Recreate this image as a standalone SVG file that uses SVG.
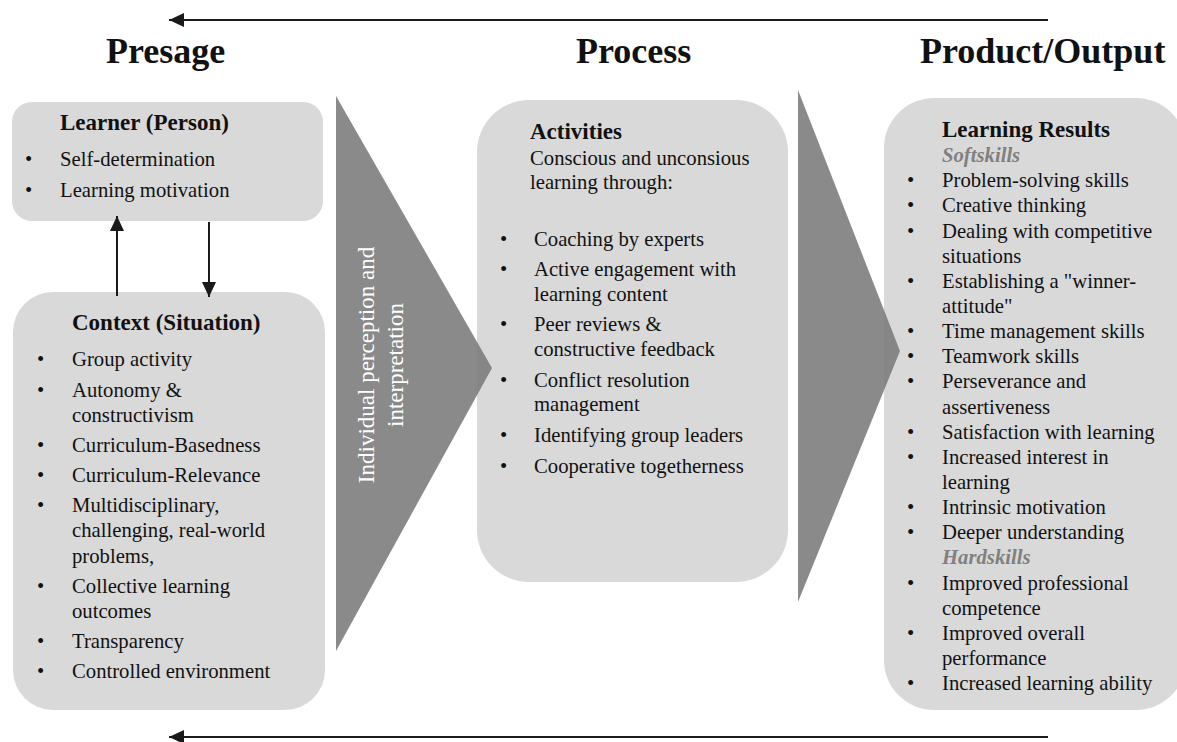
<svg xmlns="http://www.w3.org/2000/svg" width="1177" height="742" viewBox="0 0 1177 742">
<defs>
<style>
.box{fill:#d9d9d9;}
.tri{fill:#7a7a7a;fill-opacity:0.88;}
.hd{font-family:"Liberation Serif","Times New Roman",serif;font-weight:bold;font-size:36px;fill:#111;}
.t{font-family:"Liberation Serif","Times New Roman",serif;font-size:20.7px;fill:#111;}
.b{font-family:"Liberation Serif","Times New Roman",serif;font-size:23px;font-weight:bold;fill:#111;}
.sk{font-family:"Liberation Serif","Times New Roman",serif;font-size:20.7px;font-weight:bold;font-style:italic;fill:#808080;}
.rot{font-family:"Liberation Serif","Times New Roman",serif;font-size:23px;fill:#ffffff;text-anchor:middle;}
.ln{stroke:#1a1a1a;stroke-width:2;fill:none;}
</style>
<marker id="ah" viewBox="0 0 10 10" refX="10" refY="5" markerWidth="7.5" markerHeight="7.5" markerUnits="userSpaceOnUse" orient="auto">
<path d="M0,0 L10,5 L0,10 z" fill="#1a1a1a"/>
</marker>
<marker id="ah2" viewBox="0 0 15 14" refX="15" refY="7" markerWidth="15" markerHeight="14" markerUnits="userSpaceOnUse" orient="auto">
<path d="M0,0 L15,7 L0,14 z" fill="#1a1a1a"/>
</marker>
</defs>
<rect width="1177" height="742" fill="#ffffff"/>

<g id="headings">
<text class="hd" x="106" y="63">Presage</text>
<text class="hd" x="576" y="63">Process</text>
<text class="hd" x="920" y="63">Product/Output</text>
</g>

<g id="learner">
<rect class="box" x="12" y="102" width="311" height="119" rx="20" ry="20"/>
<text class="b" x="60" y="130">Learner (Person)</text>
<text class="t" x="25" y="166">•</text><text class="t" x="60" y="166">Self-determination</text>
<text class="t" x="25" y="197">•</text><text class="t" x="60" y="197">Learning motivation</text>
</g>

<g id="context">
<rect class="box" x="13" y="292" width="312" height="418" rx="40" ry="40"/>
<text class="b" x="72" y="330">Context (Situation)</text>
<text class="t" x="37" y="366">•</text><text class="t" x="72" y="366">Group activity</text>
<text class="t" x="37" y="397">•</text><text class="t" x="72" y="397">Autonomy &amp;</text>
<text class="t" x="72" y="422">constructivism</text>
<text class="t" x="37" y="452">•</text><text class="t" x="72" y="452">Curriculum-Basedness</text>
<text class="t" x="37" y="482">•</text><text class="t" x="72" y="482">Curriculum-Relevance</text>
<text class="t" x="37" y="512">•</text><text class="t" x="72" y="512">Multidisciplinary,</text>
<text class="t" x="72" y="537">challenging, real-world</text>
<text class="t" x="72" y="563">problems,</text>
<text class="t" x="37" y="593">•</text><text class="t" x="72" y="593">Collective learning</text>
<text class="t" x="72" y="618">outcomes</text>
<text class="t" x="37" y="648">•</text><text class="t" x="72" y="648">Transparency</text>
<text class="t" x="37" y="678">•</text><text class="t" x="72" y="678">Controlled environment</text>
</g>

<g id="activities">
<rect class="box" x="477" y="100" width="311" height="482" rx="52" ry="52"/>
<text class="b" x="530" y="139">Activities</text>
<text class="t" x="530" y="165">Conscious and unconsious</text>
<text class="t" x="530" y="189">learning through:</text>
<text class="t" x="500" y="246">•</text><text class="t" x="534" y="246">Coaching by experts</text>
<text class="t" x="500" y="276">•</text><text class="t" x="534" y="276">Active engagement with</text>
<text class="t" x="534" y="301">learning content</text>
<text class="t" x="500" y="331">•</text><text class="t" x="534" y="331">Peer reviews &amp;</text>
<text class="t" x="534" y="356">constructive feedback</text>
<text class="t" x="500" y="386.5">•</text><text class="t" x="534" y="386.5">Conflict resolution</text>
<text class="t" x="534" y="411">management</text>
<text class="t" x="500" y="442">•</text><text class="t" x="534" y="442">Identifying group leaders</text>
<text class="t" x="500" y="473">•</text><text class="t" x="534" y="473">Cooperative togetherness</text>
</g>

<g id="results">
<rect class="box" x="884" y="98" width="302" height="612" rx="50" ry="50"/>
<text class="b" x="942" y="137">Learning Results</text>
<text class="sk" x="942" y="162.1">Softskills</text>
<text class="t" x="907" y="187.3">•</text><text class="t" x="942" y="187.3">Problem-solving skills</text>
<text class="t" x="907" y="212.4">•</text><text class="t" x="942" y="212.4">Creative thinking</text>
<text class="t" x="907" y="237.6">•</text><text class="t" x="942" y="237.6">Dealing with competitive</text>
<text class="t" x="942" y="262.7">situations</text>
<text class="t" x="907" y="287.8">•</text><text class="t" x="942" y="287.8">Establishing a "winner-</text>
<text class="t" x="942" y="313">attitude"</text>
<text class="t" x="907" y="338.1">•</text><text class="t" x="942" y="338.1">Time management skills</text>
<text class="t" x="907" y="363.3">•</text><text class="t" x="942" y="363.3">Teamwork skills</text>
<text class="t" x="907" y="388.4">•</text><text class="t" x="942" y="388.4">Perseverance and</text>
<text class="t" x="942" y="413.5">assertiveness</text>
<text class="t" x="907" y="438.7">•</text><text class="t" x="942" y="438.7">Satisfaction with learning</text>
<text class="t" x="907" y="463.8">•</text><text class="t" x="942" y="463.8">Increased interest in</text>
<text class="t" x="942" y="489">learning</text>
<text class="t" x="907" y="514.1">•</text><text class="t" x="942" y="514.1">Intrinsic motivation</text>
<text class="t" x="907" y="539.2">•</text><text class="t" x="942" y="539.2">Deeper understanding</text>
<text class="sk" x="942" y="564.4">Hardskills</text>
<text class="t" x="907" y="589.5">•</text><text class="t" x="942" y="589.5">Improved professional</text>
<text class="t" x="942" y="614.7">competence</text>
<text class="t" x="907" y="639.8">•</text><text class="t" x="942" y="639.8">Improved overall</text>
<text class="t" x="942" y="664.9">performance</text>
<text class="t" x="907" y="690.1">•</text><text class="t" x="942" y="690.1">Increased learning ability</text>
</g>

<g id="perception">
<polygon class="tri" points="336,96 492,368 336,651"/>
<text class="rot" transform="translate(374,365) rotate(-90)">Individual perception and</text>
<text class="rot" transform="translate(403,365) rotate(-90)">interpretation</text>
</g>

<g id="output-arrow">
<polygon class="tri" points="798,90 900,351 798,602"/>
</g>

<g id="connectors">
<line class="ln" x1="117" y1="296" x2="117" y2="216" marker-end="url(#ah2)"/>
<line class="ln" x1="209" y1="222" x2="209" y2="297" marker-end="url(#ah2)"/>
<line class="ln" x1="1048" y1="20" x2="169" y2="20" marker-end="url(#ah2)"/>
<line class="ln" x1="1048" y1="737" x2="169" y2="737" marker-end="url(#ah2)"/>
</g>
</svg>
